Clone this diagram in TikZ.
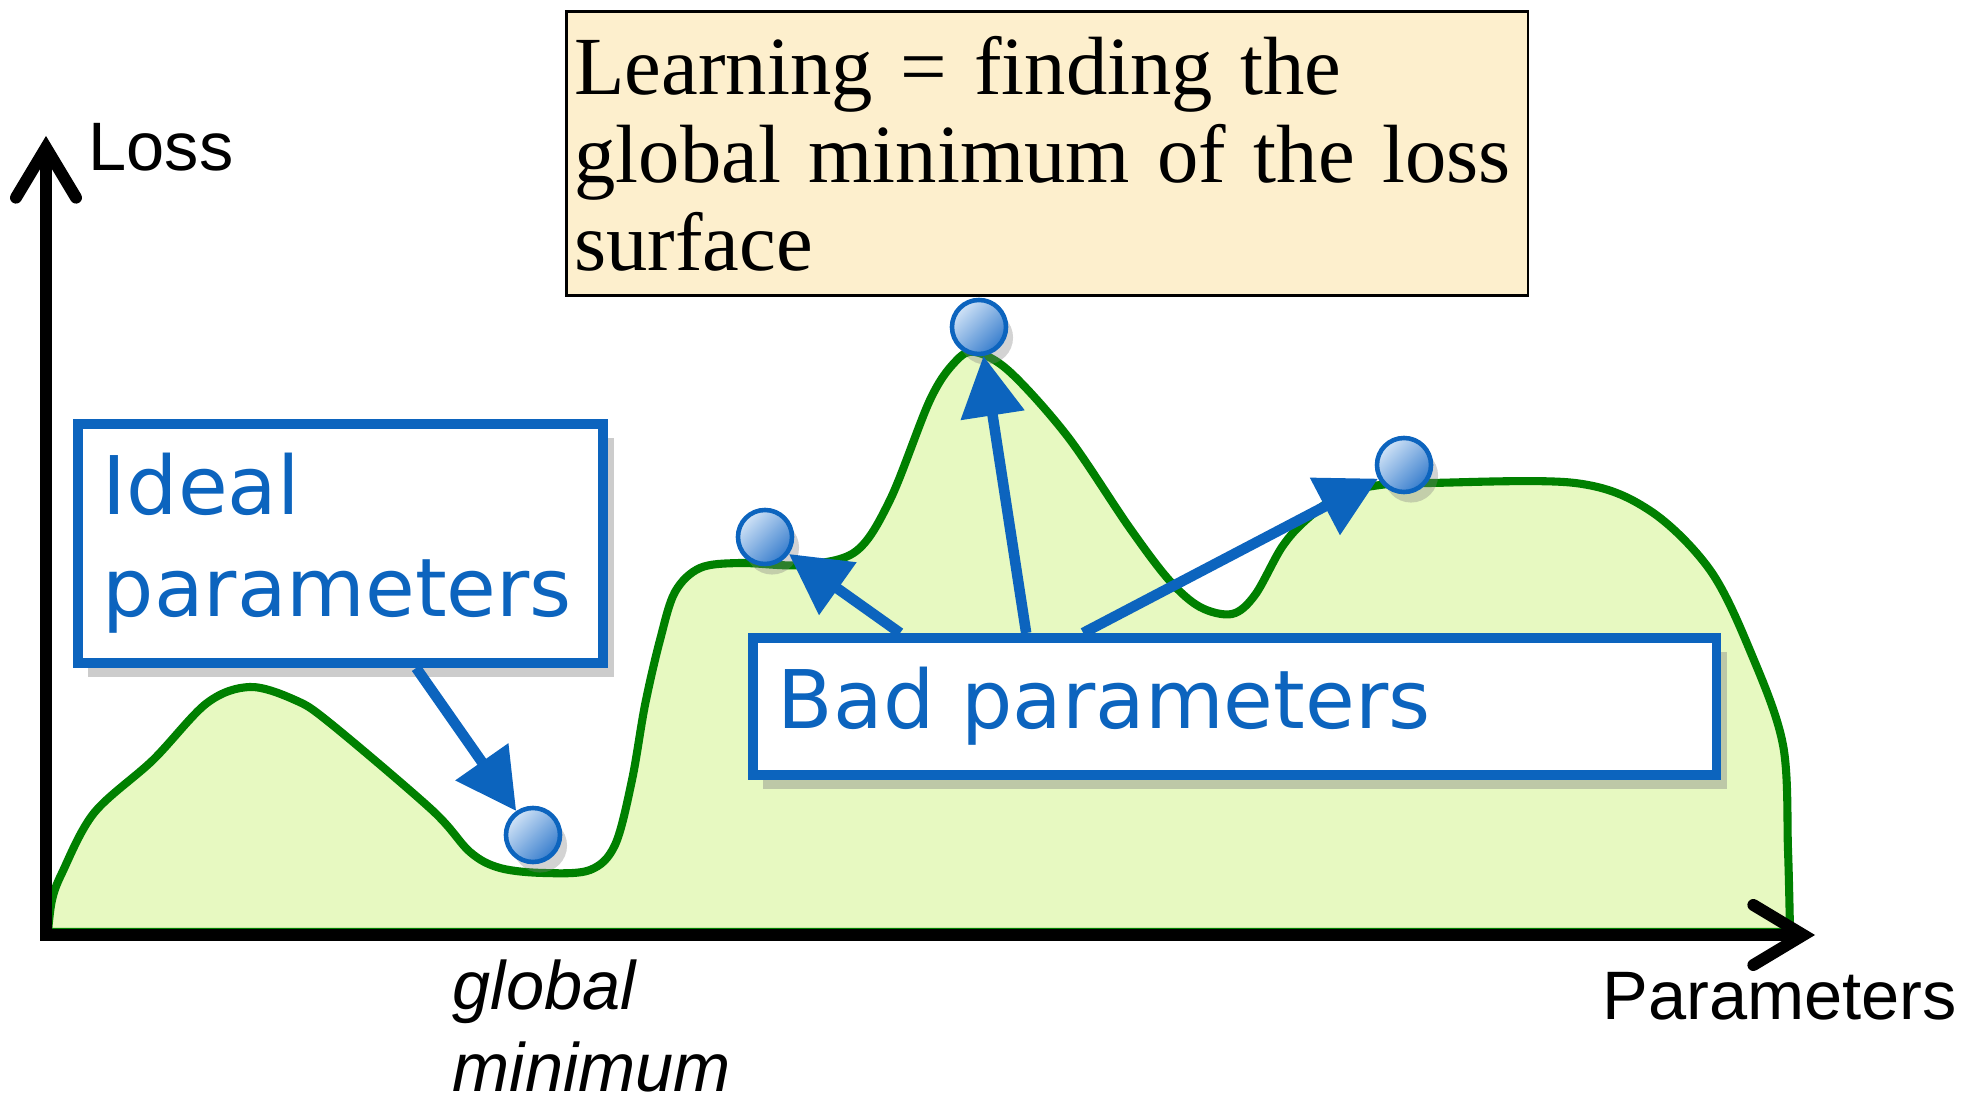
\documentclass[tikz,border=0pt]{standalone}
\usepackage{fontspec}
\setmainfont{Liberation Serif}
\newfontfamily\axisfont{Liberation Sans}
\newfontfamily\handfont{DejaVu Sans}
\usepackage{tikz}
\usetikzlibrary{arrows.meta,positioning,shadows}
\definecolor{handblue}{RGB}{12,100,190}
\definecolor{landgreen}{RGB}{0,128,0}
\definecolor{landfill}{RGB}{231,249,193}
\definecolor{notefill}{RGB}{253,239,205}
\definecolor{balllight}{RGB}{210,228,247}
\definecolor{balldark}{RGB}{55,125,205}

\begin{document}
\begin{tikzpicture}[x=0.01cm, y=-0.01cm,
    axis/.style={line width=3.4pt, line cap=rect, -{Straight Barb[length=0.5cm, width=0.6cm, line cap=round]}},
    axislabel/.style={font=\axisfont\fontsize{19.5}{23.5}\selectfont, inner sep=0pt},
    land/.style={draw=landgreen, line width=2.3pt, fill=landfill},
    notebox/.style={draw=black, line width=0.8pt, fill=notefill, align=left, text width=9.45cm, minimum height=2.84cm, inner xsep=0.08cm, font=\fontsize{23.5}{25}\selectfont},
    handbox/.style={draw=handblue, line width=2.8pt, fill=white, align=left, text=handblue, inner xsep=0.25cm, font=\handfont\fontsize{23}{29}\selectfont, drop shadow={shadow xshift=3pt, shadow yshift=-4pt, opacity=0.4}},
    ball/.style={circle, minimum size=0.54cm, inner sep=0pt, draw=handblue, line width=1.3pt, top color=balllight, bottom color=balldark, shading angle=45, drop shadow={shadow xshift=2pt, shadow yshift=-3pt, opacity=0.35}},
    pointer/.style={line width=3pt, draw=handblue, -{Triangle[length=0.6cm, width=0.62cm]}}
]
\useasboundingbox (0,0) rectangle (1969,1104);

\coordinate (origin) at (46,935);
\coordinate (ytip) at (46,136);
\coordinate (xtip) at (1815,935);

\draw[land] plot[smooth, tension=0.55] coordinates {(48,932) (52,900) (62,873) (94,813) (153,760) (207,703) (250,687) (295,700) (330,723) (432,810) (470,852) (500,868) (544,873) (590,870) (615,845) (632,780) (645,705) (660,640) (675,592) (700,568) (740,563) (800,565) (855,552) (890,500) (930,400) (955,362) (975,352) (1010,372) (1068,437) (1129,527) (1169,580) (1200,607) (1232,614) (1255,595) (1282,547) (1306,520) (1340,495) (1380,485) (1429,483) (1575,483) (1649,510) (1710,570) (1751,653) (1783,745) (1788,850) (1790,932)} -- cycle;

\draw[axis] (origin) -- (ytip);
\draw[axis] (origin) -- (xtip);

\node[axislabel, anchor=base west] (losslabel) at (88,171) {Loss};
\node[axislabel, anchor=base west] (paramlabel) at (1602,1020) {Parameters};
\node[axislabel, anchor=base west, align=left, font=\axisfont\itshape\fontsize{19.5}{23.5}\selectfont] (minlabel) at (452,1092) {global\\minimum};

\node[notebox, anchor=north west] (note) at (565,10) {Learning = finding the\\global minimum of the loss\\surface};

\node[handbox, anchor=north west, text width=4.75cm, minimum height=2.39cm] (ideal) at (73,419) {Ideal\\parameters};
\node[handbox, anchor=north west, text width=9.13cm, minimum height=1.37cm] (bad) at (748,633) {Bad parameters};

\node[ball] (minball) at (533,835) {};
\node[ball] (shelfball) at (765,537) {};
\node[ball] (peakball) at (979,327) {};
\node[ball] (plateauball) at (1404,465) {};

\draw[pointer] ([xshift=3.43cm]ideal.south west) -- (minball);
\draw[pointer] ([xshift=1.52cm]bad.north west) -- (shelfball);
\draw[pointer] ([xshift=2.78cm]bad.north west) -- (peakball);
\draw[pointer] ([xshift=3.35cm]bad.north west) -- (plateauball);
\end{tikzpicture}
\end{document}
